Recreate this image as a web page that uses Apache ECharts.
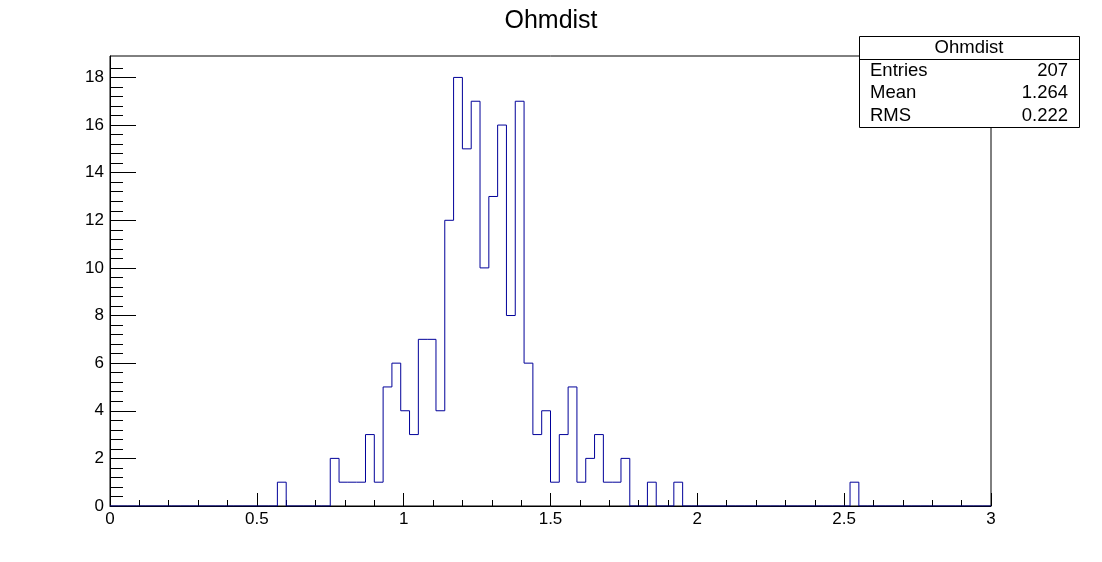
<!DOCTYPE html>
<html>
<head>
<meta charset="utf-8">
<script src="https://cdn.jsdelivr.net/npm/echarts@6/dist/echarts.min.js"></script>
<style>
html,body{margin:0;padding:0;background:#fff;}
#chart{width:1102px;height:562px;}
</style>
</head>
<body>
<div id="chart"></div>
<script>
// Histogram definition: 100 bins from 0 to 3
var binLow = 0;
var binHigh = 3;
var binCounts = [
  0,0,0,0,0,0,0,0,0,0,
  0,0,0,0,0,0,0,0,0,1,
  0,0,0,0,0,2,1,1,1,3,
  1,5,6,4,3,7,7,4,12,18,
  15,17,10,13,16,8,17,6,3,4,
  1,3,5,1,2,3,1,1,2,0,
  0,1,0,0,1,0,0,0,0,0,
  0,0,0,0,0,0,0,0,0,0,
  0,0,0,0,1,0,0,0,0,0,
  0,0,0,0,0,0,0,0,0,0
];
var xTickValues = [0, 0.5, 1, 1.5, 2, 2.5, 3];
var yTickValues = [0, 2, 4, 6, 8, 10, 12, 14, 16, 18];
var title = 'Ohmdist';
var statLabels = ['Entries', 'Mean', 'RMS'];
var statValues = ['207', '1.264', '0.222'];

var nBins = binCounts.length;
var w = (binHigh - binLow) / nBins;
var stepData = [];
for (var i = 0; i < nBins; i++) {
  stepData.push([+(binLow + i * w).toFixed(6), binCounts[i]]);
}
stepData.push([binHigh, binCounts[nBins - 1]]);

var FONT = 'Liberation Sans, Arial, Helvetica, sans-serif';
var chart = echarts.init(document.getElementById('chart'), null, {renderer: 'canvas'});

var yMax = 18.9;
var plotTop = 56, plotBottom = 56, H = 562;
var plotH = H - plotTop - plotBottom;
var minorMax = 18.4;
var minorTop = H - plotBottom - plotH * (minorMax / yMax);

var graphics = [
  {type: 'rect', shape: {x: 859.5, y: 36.5, width: 220, height: 91}, style: {fill: '#fff', stroke: '#000', lineWidth: 1}, z: 100},
  {type: 'line', shape: {x1: 859.5, y1: 59.5, x2: 1079.5, y2: 59.5}, style: {stroke: '#000', lineWidth: 1}, z: 101},
  {type: 'text', x: 969, y: 48, style: {text: title, font: '18.5px ' + FONT, fill: '#000', align: 'center', verticalAlign: 'middle'}, z: 101}
];
var rowY = [71, 93, 116];
for (var k = 0; k < statLabels.length; k++) {
  graphics.push({type: 'text', x: 870, y: rowY[k], style: {text: statLabels[k], font: '18.5px ' + FONT, fill: '#000', align: 'left', verticalAlign: 'middle'}, z: 101});
  graphics.push({type: 'text', x: 1068, y: rowY[k], style: {text: statValues[k], font: '18.5px ' + FONT, fill: '#000', align: 'right', verticalAlign: 'middle'}, z: 101});
}

var option = {
  animation: false,
  backgroundColor: '#fff',
  title: {
    text: title, left: 546, top: 4, textAlign: 'center',
    textStyle: {fontFamily: FONT, fontSize: 25, fontWeight: 'normal', color: '#000'}
  },
  grid: [
    {left: 110, right: 111, top: plotTop, bottom: plotBottom, show: true, borderColor: '#000', borderWidth: 1, backgroundColor: 'transparent'},
    {left: 110, right: 111, top: minorTop, bottom: plotBottom, show: false}
  ],
  xAxis: [{
    type: 'value', min: binLow, max: binHigh, interval: 0.5, gridIndex: 0,
    axisLine: {show: true, lineStyle: {color: '#000', width: 1}},
    axisTick: {show: true, inside: true, length: 13, lineStyle: {color: '#000'}},
    minorTick: {show: true, splitNumber: 5, length: 6, lineStyle: {color: '#000'}},
    splitLine: {show: false},
    axisLabel: {
      color: '#000', fontFamily: FONT, fontSize: 17, margin: 5,
      formatter: function (v) {
        for (var j = 0; j < xTickValues.length; j++) { if (Math.abs(v - xTickValues[j]) < 1e-6) return String(xTickValues[j]); }
        return '';
      }
    }
  }, {
    type: 'value', min: binLow, max: binHigh, gridIndex: 1, show: false
  }],
  yAxis: [
    {
      type: 'value', min: 0, max: yMax, interval: 2, gridIndex: 0,
      axisLine: {show: true, lineStyle: {color: '#000', width: 1}},
      axisTick: {show: true, inside: true, length: 26, lineStyle: {color: '#000'}},
      splitLine: {show: false},
      axisLabel: {
        color: '#000', fontFamily: FONT, fontSize: 17, margin: 6, showMaxLabel: false,
        formatter: function (v) {
          for (var j = 0; j < yTickValues.length; j++) { if (Math.abs(v - yTickValues[j]) < 1e-6) return String(yTickValues[j]); }
          return '';
        }
      }
    },
    {
      type: 'value', min: 0, max: minorMax, interval: 0.4, gridIndex: 1, position: 'left',
      axisLine: {show: false},
      axisTick: {show: true, inside: true, length: 13, lineStyle: {color: '#000'}},
      splitLine: {show: false},
      axisLabel: {show: false}
    }
  ],
  series: [{
    type: 'line', step: 'end', data: stepData, xAxisIndex: 0, yAxisIndex: 0,
    showSymbol: false, symbol: 'none',
    lineStyle: {color: '#000099', width: 1},
    z: 2
  }],
  graphic: graphics
};
chart.setOption(option);
</script>
</body>
</html>
